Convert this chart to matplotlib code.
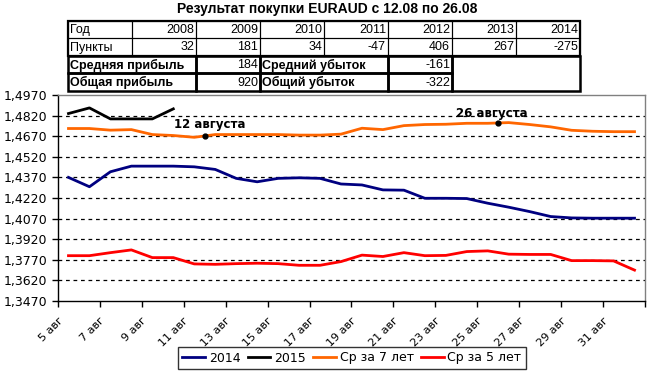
import numpy as np
import matplotlib
matplotlib.use("Agg")
import matplotlib.pyplot as plt
from matplotlib.patches import Rectangle

# --- data ---
days = ["5 авг", "6 авг", "7 авг", "8 авг", "9 авг", "10 авг", "11 авг",
        "12 авг", "13 авг", "14 авг", "15 авг", "16 авг", "17 авг", "18 авг",
        "19 авг", "20 авг", "21 авг", "22 авг", "23 авг", "24 авг", "25 авг",
        "26 авг", "27 авг", "28 авг", "29 авг", "30 авг", "31 авг", "1 сен"]

y2014 = [1.4370, 1.4302, 1.4411, 1.4452, 1.4452, 1.4452, 1.4447, 1.4428,
         1.4363, 1.4338, 1.4363, 1.4367, 1.4363, 1.4322, 1.4315, 1.4279,
         1.4277, 1.4218, 1.4218, 1.4216, 1.4182, 1.4153, 1.4121, 1.4085,
         1.4075, 1.4073, 1.4073, 1.4073]
y2015 = [1.4835, 1.4876, 1.4796, 1.4796, 1.4796, 1.4869]
avg7 = [1.4726, 1.4726, 1.4714, 1.4718, 1.4682, 1.4675, 1.4662, 1.4682,
        1.4682, 1.4682, 1.4682, 1.4678, 1.4678, 1.4685, 1.4728, 1.4718,
        1.4747, 1.4755, 1.4757, 1.4764, 1.4764, 1.4769, 1.4755, 1.4738,
        1.4713, 1.4706, 1.4703, 1.4703]
avg5 = [1.3800, 1.3800, 1.3822, 1.3842, 1.3786, 1.3786, 1.3740, 1.3737,
        1.3742, 1.3745, 1.3742, 1.3730, 1.3730, 1.3757, 1.3804, 1.3794,
        1.3822, 1.3800, 1.3802, 1.3830, 1.3835, 1.3811, 1.3809, 1.3809,
        1.3764, 1.3764, 1.3762, 1.3695]

# entry / exit marks
mark_labels = ["12 августа", "26 августа"]
mark_days = ["12 авг", "26 авг"]
mark_values = [1.4672, 1.4766]

# summary table
years = ["2008", "2009", "2010", "2011", "2012", "2013", "2014"]
points = ["32", "181", "34", "-47", "406", "267", "-275"]
avg_profit, avg_loss = "184", "-161"
total_profit, total_loss = "920", "-322"

W, H = 650, 375
fig = plt.figure(figsize=(W / 100, H / 100), dpi=100)


def fx(x):
    return x / W


def fy(y):
    return 1 - y / H


ax = fig.add_axes([fx(58), fy(301), fx(645) - fx(58), fy(95) - fy(301)])

x = np.arange(len(days))
ax.plot(x, y2014, color="#000080", lw=2, label="2014")
ax.plot(x[:len(y2015)], y2015, color="black", lw=2, label="2015")
ax.plot(x, avg7, color="#FF6600", lw=2, label="Ср за 7 лет")
ax.plot(x, avg5, color="#FF0000", lw=2, label="Ср за 5 лет")

# markers sit on the left edge of the day's slot
offsets = [(5, 11), (-6, 10)]
for lab, d, v, off in zip(mark_labels, mark_days, mark_values, offsets):
    xi = days.index(d) - 0.5
    ax.plot([xi], [v], "o", color="black", ms=3.5)
    ax.annotate(lab, xy=(xi, v), xytext=off, textcoords="offset pixels",
                ha="center", va="center", fontsize=8.5, fontweight="bold",
                family="DejaVu Sans")

yticks = np.arange(1.3470, 1.4971, 0.015)
ax.set_ylim(1.3470, 1.4970)
ax.set_yticks(yticks)
ax.set_yticklabels([f"{t:.4f}".replace(".", ",") for t in yticks],
                   fontsize=9, family="DejaVu Sans")
for t in yticks[1:-1]:
    ax.axhline(t, color="black", lw=0.9, ls=(0, (3, 3)), zorder=0)

ax.set_xlim(-0.5, len(days) - 0.5)
xt = np.arange(-0.5, len(days), 2)
ax.set_xticks(xt)
ax.set_xticklabels(days[::2] + [""], rotation=45, ha="right", va="top",
                   rotation_mode="anchor", fontsize=8, family="DejaVu Sans")
ax.tick_params(axis="both", direction="out", length=4, width=1, color="black")
ax.tick_params(axis="x", pad=6)

for s in ["top", "right"]:
    ax.spines[s].set_color("#808080")
    ax.spines[s].set_linewidth(1)
for s in ["left", "bottom"]:
    ax.spines[s].set_color("black")
    ax.spines[s].set_linewidth(1)

leg = fig.legend(loc="center", bbox_to_anchor=(fx(352), fy(358)), ncol=4,
                 frameon=True, fancybox=False, fontsize=9, handlelength=1.8,
                 handletextpad=0.3, columnspacing=0.6, borderpad=0.35,
                 prop={"family": "DejaVu Sans", "size": 9})
leg.get_frame().set_edgecolor("black")
leg.get_frame().set_linewidth(1)

# title
fig.text(fx(327), fy(9), "Результат покупки EURAUD с 12.08 по 26.08",
         ha="center", va="center", fontsize=10, fontweight="bold",
         family="Liberation Sans")

# table
cols = [68 + 64 * i for i in range(9)]
rows = [21, 38.3, 55.7, 73.3, 91]


def cell(x0, x1, y0, y1, lw):
    fig.add_artist(Rectangle((fx(x0), fy(y1)), fx(x1) - fx(x0), fy(y0) - fy(y1),
                             transform=fig.transFigure, fill=False,
                             edgecolor="black", lw=lw))


def txt(x0, x1, y0, y1, s, right=False, bold=False):
    if right:
        fig.text(fx(x1 - 2), fy((y0 + y1) / 2 + 0.5), s, ha="right", va="center",
                 fontsize=9, family="Liberation Sans",
                 fontweight="bold" if bold else "normal")
    else:
        fig.text(fx(x0 + 2), fy((y0 + y1) / 2 + 0.5), s, ha="left", va="center",
                 fontsize=9, family="Liberation Sans",
                 fontweight="bold" if bold else "normal")


head = ["Год"] + years
vals = ["Пункты"] + points
for r, row in enumerate([head, vals]):
    for c in range(8):
        cell(cols[c], cols[c + 1], rows[r], rows[r + 1], 0.8)
        txt(cols[c], cols[c + 1], rows[r], rows[r + 1], row[c], right=c > 0)
cell(cols[0], cols[8], rows[0], rows[2], 1.6)

summary = [("Средняя прибыль", avg_profit, "Средний убыток", avg_loss),
           ("Общая прибыль", total_profit, "Общий убыток", total_loss)]
for k, (l1, v1, l2, v2) in enumerate(summary):
    r = 2 + k
    y0, y1 = rows[r], rows[r + 1]
    cell(cols[0], cols[2], y0, y1, 1.8)
    cell(cols[2], cols[3], y0, y1, 1.8)
    cell(cols[3], cols[5], y0, y1, 1.8)
    cell(cols[5], cols[6], y0, y1, 1.8)
    txt(cols[0], cols[2], y0, y1, l1, bold=True)
    txt(cols[2], cols[3], y0, y1, v1, right=True)
    txt(cols[3], cols[5], y0, y1, l2, bold=True)
    txt(cols[5], cols[6], y0, y1, v2, right=True)
cell(cols[6], cols[8], rows[2], rows[4], 1.8)

fig.savefig("out.png", dpi=100)
